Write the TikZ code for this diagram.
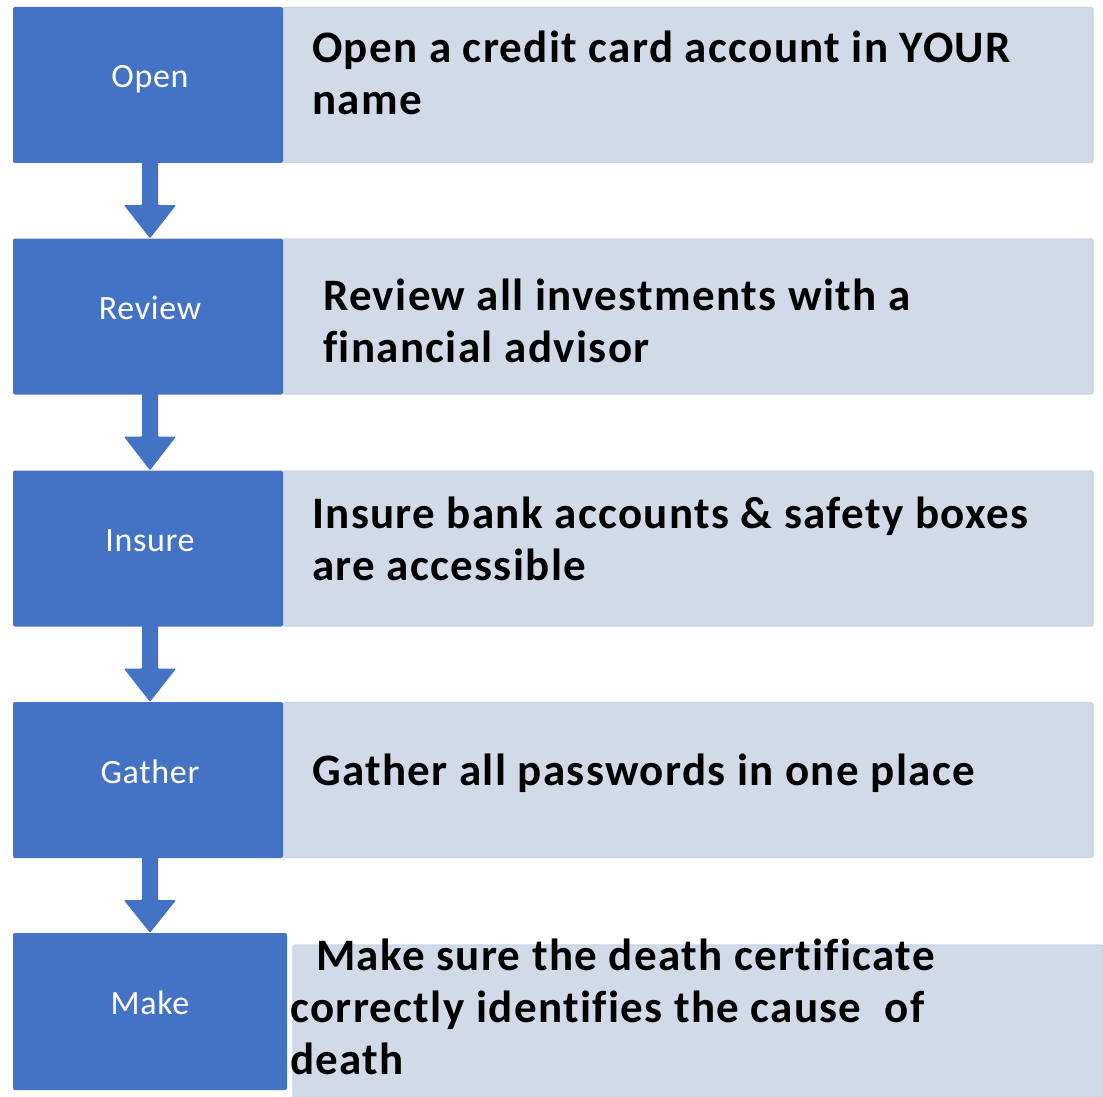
\documentclass[tikz,border=0pt]{standalone}
\usepackage{fontspec}
\setmainfont{Carlito}
\newfontfamily\bodyfont[LetterSpace=3,Ligatures=NoCommon]{Carlito}
\newfontfamily\lblfont[LetterSpace=2]{Carlito}
\usetikzlibrary{calc}
\definecolor{blu}{HTML}{4472C4}
\definecolor{lite}{HTML}{D3DAE7}
\definecolor{liteedge}{HTML}{C9D3E6}
\begin{document}
\begin{tikzpicture}[x=1pt,y=-1pt,
  bluebox/.style={fill=blu, rounded corners=2pt, inner sep=0pt, minimum width=270pt, minimum height=156pt},
  litebox/.style={fill=lite, draw=liteedge, line width=1.2pt, rounded corners=2pt, inner sep=0pt, minimum width=810pt, minimum height=155pt},
  lbl/.style={text=white, inner sep=0pt, anchor=base, font=\lblfont\fontsize{34}{40}\selectfont},
  txt/.style={inner sep=0pt, anchor=base west, align=left, font=\bodyfont\fontsize{45}{52}\selectfont\bfseries},
  arr/.style={fill=blu, rounded corners=1pt}]
\useasboundingbox (0,0) rectangle (1103,1097);
% light boxes
\node[litebox] (l1) at (688,85) {};
\node[litebox] (l2) at (688,316.5) {};
\node[litebox] (l3) at (688,548.5) {};
\node[litebox] (l4) at (688,780) {};
\node[litebox, minimum height=160pt] (l5) at (698,1025) {};
% blue boxes
\node[bluebox] (b1) at (148,85) {};
\node[bluebox] (b2) at (148,316.5) {};
\node[bluebox] (b3) at (148,548.5) {};
\node[bluebox] (b4) at (148,780) {};
\node[bluebox, minimum width=274pt, minimum height=157pt] (b5) at (150,1011.5) {};
% labels
\node[lbl] (n1) at (150,88) {Open};
\node[lbl] (n2) at (150,319) {Review};
\node[lbl] (n3) at (150,551) {Insure};
\node[lbl] (n4) at (150,783) {Gather};
\node[lbl] (n5) at (150,1014) {Make};
% texts (base anchor = last line)
\node[txt] (t1) at (312,115) {Open a credit card account in YOUR\\name};
\node[txt] (t2) at (323,362) {Review all investments with a\\financial advisor};
\node[txt] (t3) at (312,580) {Insure bank accounts \& safety boxes\\are accessible};
\node[txt] (t4) at (312,785) {Gather all passwords in one place};
\node[txt] (t5) at (290,1074) {\hspace{26pt}Make sure the death certificate\\correctly identifies the cause\ \ of\\death};
% arrows
\foreach \a/\b in {b1/b2,b2/b3,b3/b4,b4/b5}{
  \coordinate (s) at ($(\a.south)+(2,0)$);
  \coordinate (tip) at (s |- \b.north);
  \fill[arr] ($(s)+(-8,-1)$) -- ($(s)+(8,-1)$) -- ($(s)+(8,42)$) -- ($(s)+(26,42)$)
    -- (tip) -- ($(s)+(-26,42)$) -- ($(s)+(-8,42)$) -- cycle;
}
\end{tikzpicture}
\end{document}
